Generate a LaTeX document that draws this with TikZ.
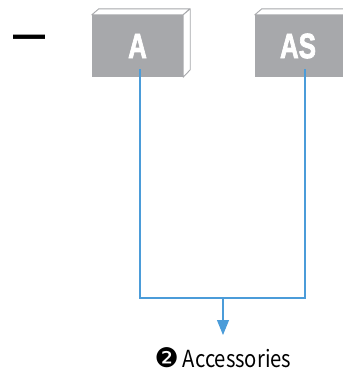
\documentclass[tikz,border=0pt]{standalone}
\usepackage{fontspec}
\setmainfont{Noto Sans CJK KR}
\newfontfamily\dejavu{DejaVu Sans}
\newfontfamily\boxfont{Liberation Sans Bold}[FakeBold=2.5]
\newfontfamily\dashfont{Liberation Sans}
\usetikzlibrary{arrows.meta}
\definecolor{boxgray}{HTML}{A7A8AB}
\definecolor{linkblue}{HTML}{4B9CD9}
\tikzset{
  frontface/.style={fill=boxgray, draw=none, minimum width=91pt, minimum height=62pt, inner sep=0pt, text=white},
  faceside/.style={fill=white, draw=boxgray, line width=0.9pt, line join=round},
  link/.style={draw=linkblue, line width=1.1pt},
}
\newcommand{\boxtext}[1]{\scalebox{0.74}[1]{\boxfont\fontsize{35}{35}\selectfont #1}}
\begin{document}
\begin{tikzpicture}[x=1pt,y=-1pt]
\useasboundingbox (0,0) rectangle (343,373);
\begin{scope}
\clip (0,0) rectangle (343,373);
% box A
\node[frontface] (A) at (137.5,46) {\boxtext{A}};
\draw[faceside] (A.north west) -- ++(7,-6) -- ++(91,0) -- (A.north east) -- cycle;
\draw[faceside] (A.north east) -- ++(7,-6) -- ++(0,61) -- (A.south east) -- cycle;
% box AS
\node[frontface] (AS) at (300.5,46) {\hspace*{-5pt}\boxtext{AS}};
\draw[faceside] (AS.north west) -- ++(7,-6) -- ++(91,0) -- (AS.north east) -- cycle;
\end{scope}
% dash
\node[inner sep=0pt] (dash) at (29,44) {\scalebox{1}[2]{\dashfont\fontsize{32}{32}\selectfont —}};
% connectors
\coordinate (la) at ([xshift=2.5pt,yshift=8pt]A.south);
\coordinate (las) at ([xshift=4.5pt,yshift=8pt]AS.south);
\coordinate (j) at (223,298);
\coordinate (tip) at (223,335);
\node[inner sep=0pt, anchor=base] (acc) at (223,367)
  {{\dejavu\fontsize{27}{27}\selectfont ❷}\hspace{4pt}\scalebox{0.86}[1]{\fontsize{23.5}{23.5}\selectfont Accessories}};
\draw[link] (la) |- (j) -| (las);
\draw[link, -{Triangle[width=12pt,length=15pt]}, linkblue] (j) -- (tip);
\end{tikzpicture}
\end{document}
